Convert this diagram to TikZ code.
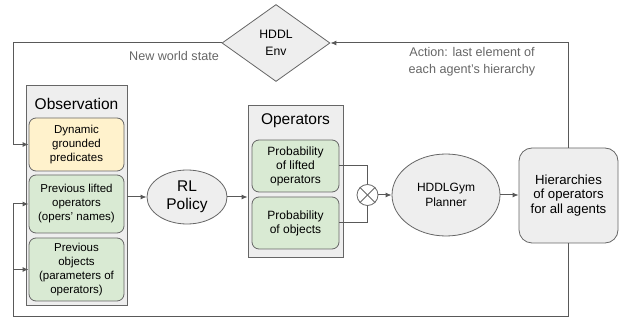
\documentclass[tikz,border=0pt]{standalone}
\usepackage{fontspec}
\setmainfont{Liberation Sans}
\usetikzlibrary{shapes.geometric,arrows.meta}
\definecolor{boxgray}{HTML}{EEEEEE}
\definecolor{linegray}{HTML}{595959}
\definecolor{edgegray}{HTML}{666666}
\definecolor{labelgray}{HTML}{666666}
\definecolor{obsyellow}{HTML}{FFF2CC}
\definecolor{obsgreen}{HTML}{D9EAD3}
\tikzset{
  frame/.style={draw=edgegray,fill=boxgray,line width=0.8pt,inner sep=0pt},
  item/.style={draw=edgegray,line width=0.8pt,rounded corners=7pt,inner sep=0pt,
    align=center,font=\fontsize{11.5}{14}\selectfont},
  title/.style={font=\fontsize{15.5}{18}\selectfont},
  oval/.style={ellipse,draw=edgegray,fill=boxgray,line width=0.8pt,inner sep=0pt,align=center},
  flow/.style={draw=linegray,line width=1pt},
  note/.style={text=labelgray,align=center,font=\fontsize{12.6}{17}\selectfont}
}
\begin{document}
\begin{tikzpicture}[x=1pt,y=-1pt,>={Latex[length=6pt,width=5pt]}]
\useasboundingbox (0,0) rectangle (621,320);
% Umgebung
\node[diamond,draw=edgegray,fill=boxgray,line width=0.8pt,inner sep=0pt,
  minimum width=108,minimum height=77,align=center,
  font=\fontsize{12.2}{17}\selectfont] (env) at (276,43) {HDDL\\Env};
% Beobachtung
\node[frame,minimum width=101,minimum height=220] (obs) at (76.5,195) {};
\node[title] (obstitle) at (76.5,104) {Observation};
\node[item,fill=obsyellow,minimum width=95,minimum height=53] (dyn) at (76.5,144.5)
  {Dynamic\\grounded\\predicates};
\node[item,fill=obsgreen,minimum width=95,minimum height=58] (prevop) at (76.5,204)
  {Previous lifted\\operators\\(opers’ names)};
\node[item,fill=obsgreen,minimum width=95,minimum height=63] (prevobj) at (76.5,269.5)
  {Previous\\objects\\(parameters of\\operators)};
% Policy
\node[oval,minimum width=80,minimum height=54,font=\fontsize{15.5}{18}\selectfont]
  (rl) at (187,197) {RL\\Policy};
% Operatoren
\node[frame,minimum width=95,minimum height=152] (ops) at (295.5,181) {};
\node[title] (opstitle) at (295.5,121) {Operators};
\node[item,fill=obsgreen,minimum width=87,minimum height=52,
  font=\fontsize{12}{14}\selectfont] (plift) at (295.5,166) {Probability\\of lifted\\operators};
\node[item,fill=obsgreen,minimum width=87,minimum height=52,
  font=\fontsize{12}{14}\selectfont] (pobj) at (295.5,223) {Probability\\of objects};
% Produkt
\node[circle,draw=edgegray,line width=0.8pt,minimum size=21,inner sep=0pt] (mul) at (367.5,195) {};
\draw[draw=edgegray,line width=0.8pt] (mul.north west) -- (mul.south east);
\draw[draw=edgegray,line width=0.8pt] (mul.north east) -- (mul.south west);
% Planer und Hierarchien
\node[oval,minimum width=108,minimum height=82,font=\fontsize{12}{15}\selectfont]
  (planner) at (446,195) {HDDLGym\\Planner};
\node[draw=edgegray,fill=boxgray,line width=0.8pt,rounded corners=13pt,
  minimum width=99,minimum height=95,align=center,inner sep=0pt,
  font=\fontsize{13.2}{14.5}\selectfont] (hier) at (568.5,195.5)
  {Hierarchies\\of operators\\for all agents};
% Hilfspunkte fuer die Rueckfuehrung
\coordinate (loopx) at (13,0);
\coordinate (loopbot) at (13,316);
% Verbindungen
\draw[flow,->] (obs.east |- rl.west) -- (rl.west);
\draw[flow,->] (rl.east) -- (rl.east -| ops.west);
\draw[flow] (plift.east) -| (mul.north);
\draw[flow] (pobj.east) -| (mul.south);
\draw[flow,->] (mul.east) -- (mul.east -| planner.west);
\draw[flow,->] (planner.east) -- (planner.east -| hier.west);
\draw[flow,->] (hier.north) |- (env.east);
\draw[flow,->] (env.west) -- (env.west -| loopx) |- (dyn.west);
\draw[flow,->] (hier.south) |- (loopbot) |- (prevop.west);
\draw[flow,->] (loopbot |- prevobj.west) -- (prevobj.west);
% Beschriftungen
\node[note] (newstate) at (174,56) {New world state};
\node[note] (action) at (472,62) {Action: last element of\\each agent’s hierarchy};
\end{tikzpicture}
\end{document}
